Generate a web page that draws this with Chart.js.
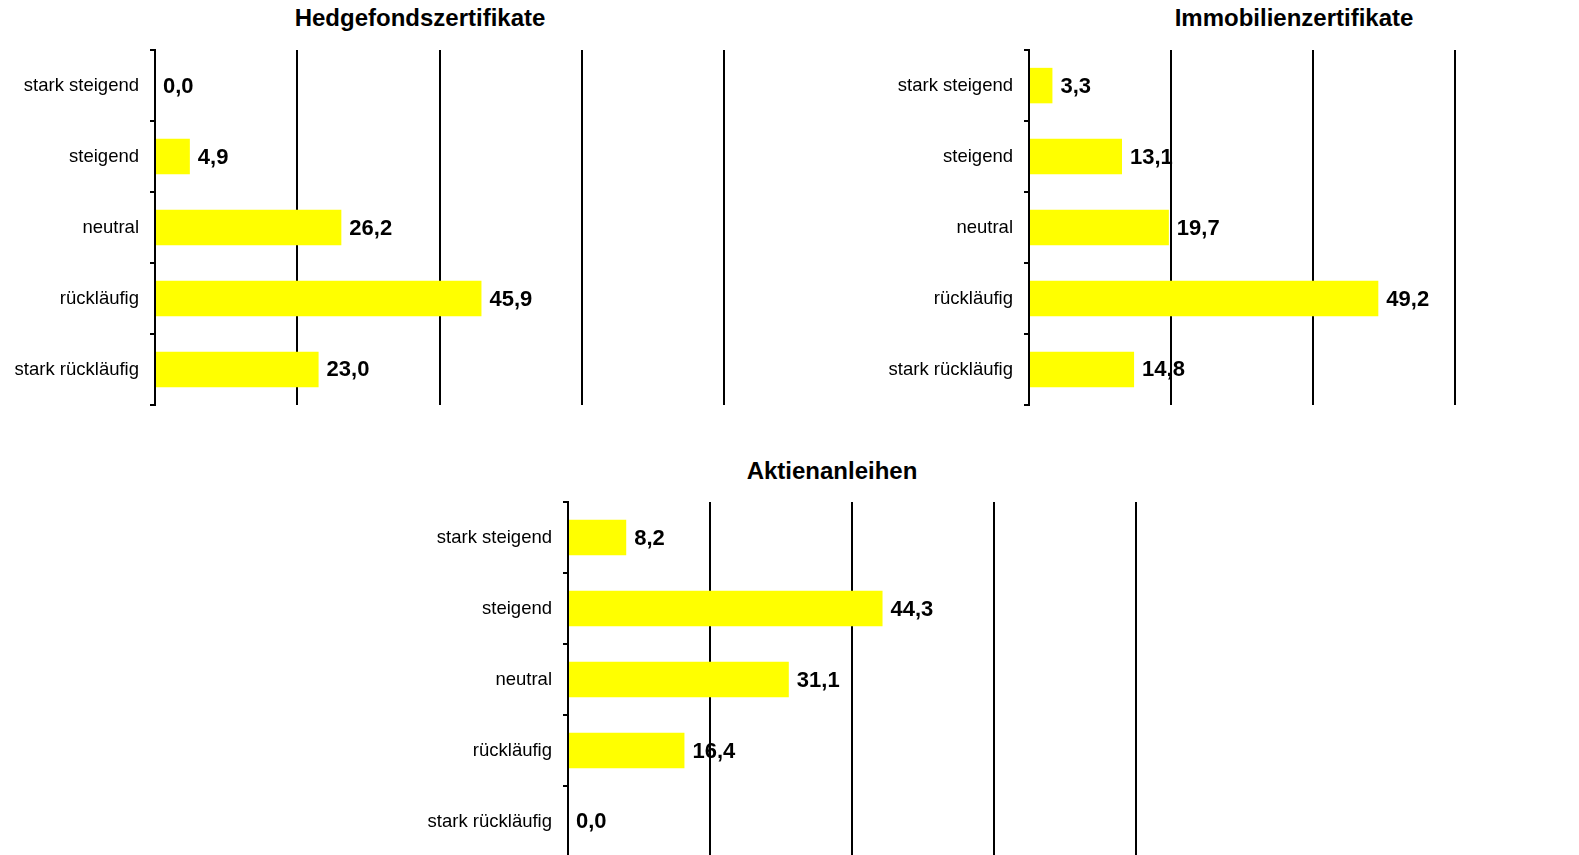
<!DOCTYPE html>
<html>
<head>
<meta charset="utf-8">
<script src="https://cdn.jsdelivr.net/npm/chart.js@4.4.1/dist/chart.umd.min.js"></script>
<style>
    html, body { margin: 0; padding: 0; background: #fff; overflow: hidden; width: 1579px; height: 855px; }
    .box { position: absolute; }
    .ttl {
        position: absolute;
        font-family: "Liberation Sans", Arial, sans-serif;
        font-weight: bold;
        font-size: 24px;
        line-height: 28px;
        color: #000;
        transform: translate(-50%, -50%);
        white-space: nowrap;
    }
</style>
</head>
<body>

<div class="ttl" style="left:420px; top:18px;">Hedgefondszertifikate</div>
<div class="ttl" style="left:1294px; top:18px;">Immobilienzertifikate</div>
<div class="ttl" style="left:832px; top:471px;">Aktienanleihen</div>

<div class="box" style="left:0px; top:28px; width:726px; height:399px;"><canvas id="c1"></canvas></div>
<div class="box" style="left:874px; top:28px; width:583px; height:399px;"><canvas id="c2"></canvas></div>
<div class="box" style="left:413px; top:480px; width:725px; height:399px;"><canvas id="c3"></canvas></div>

<script>
// Kategorien und Werte (in %)
const categories = ['stark steigend', 'steigend', 'neutral', 'rückläufig', 'stark rückläufig'];
const hedgefonds = [0.0, 4.9, 26.2, 45.9, 23.0];
const immobilien = [3.3, 13.1, 19.7, 49.2, 14.8];
const aktienanleihen = [8.2, 44.3, 31.1, 16.4, 0.0];
const xMaxHedge = 80;
const xMaxImmo = 60;
const xMaxAktien = 80;
const xStep = 20;

const FONT = '"Liberation Sans", Arial, sans-serif';

// Werte rechts neben die Balken schreiben (mit Komma)
const valueLabels = {
    id: 'valueLabels',
    afterDatasetsDraw(chart) {
        const ctx = chart.ctx;
        ctx.save();
        ctx.font = 'bold 22px ' + FONT;
        ctx.fillStyle = '#000';
        ctx.textAlign = 'left';
        ctx.textBaseline = 'middle';
        chart.getDatasetMeta(0).data.forEach((bar, i) => {
            const v = chart.data.datasets[0].data[i];
            ctx.fillText(v.toFixed(1).replace('.', ','), bar.x + 8, bar.y + 1);
        });
        ctx.restore();
    }
};

function makeChart(id, values, xMax) {
    const ctx = document.getElementById(id).getContext('2d');
    return new Chart(ctx, {
        type: 'bar',
        data: {
            labels: categories,
            datasets: [{
                data: values,
                backgroundColor: '#ffff00',
                borderWidth: 0,
                barPercentage: 0.5,
                categoryPercentage: 1.0
            }]
        },
        options: {
            indexAxis: 'y',
            responsive: true,
            maintainAspectRatio: false,
            animation: false,
            layout: { padding: { top: 10, bottom: 5, left: 0, right: 2 } },
            plugins: {
                legend: { display: false },
                tooltip: { enabled: false }
            },
            scales: {
                x: {
                    min: 0,
                    max: xMax,
                    ticks: { display: false, stepSize: xStep },
                    grid: { color: '#000', lineWidth: 2, drawTicks: false },
                    border: { display: false }
                },
                y: {
                    afterFit: (scale) => { scale.width = 155; },
                    ticks: {
                        color: '#000',
                        font: { family: FONT, size: 18.5 },
                        padding: 11
                    },
                    grid: {
                        offset: true,
                        drawOnChartArea: false,
                        drawTicks: true,
                        tickLength: 5,
                        color: '#000',
                        lineWidth: 2
                    },
                    border: { display: true, color: '#000', width: 2 }
                }
            }
        },
        plugins: [valueLabels]
    });
}

makeChart('c1', hedgefonds, xMaxHedge);
makeChart('c2', immobilien, xMaxImmo);
makeChart('c3', aktienanleihen, xMaxAktien);
</script>
</body>
</html>
